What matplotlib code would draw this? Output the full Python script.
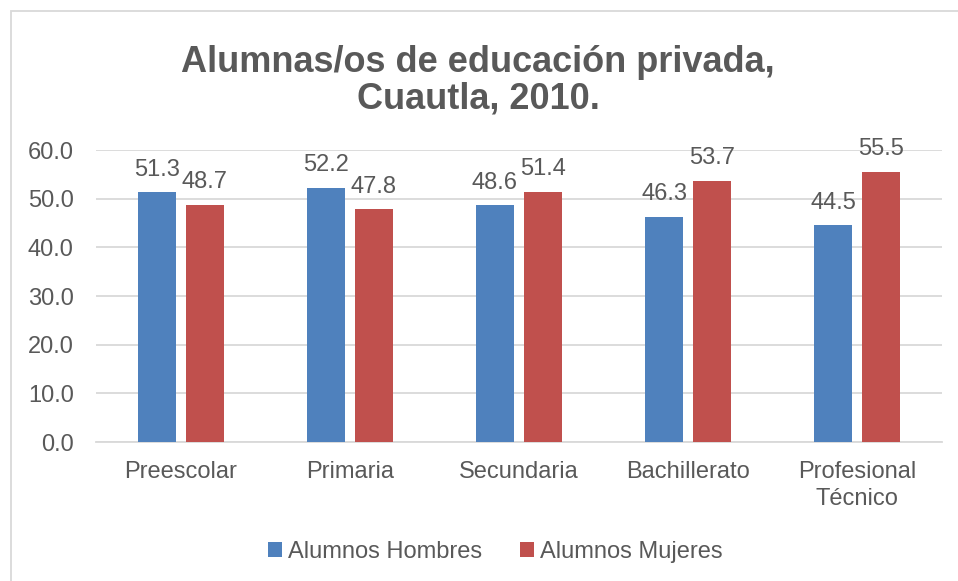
import numpy as np
import matplotlib
matplotlib.use("Agg")
import matplotlib.pyplot as plt
from matplotlib.patches import Rectangle

# data
categorias = ["Preescolar", "Primaria", "Secundaria", "Bachillerato", "Profesional\nTécnico"]
hombres = [51.3, 52.2, 48.6, 46.3, 44.5]
mujeres = [48.7, 47.8, 51.4, 53.7, 55.5]
yticks = [0, 10, 20, 30, 40, 50, 60]

plt.rcParams['font.family'] = ['Liberation Sans', 'DejaVu Sans']
gris = '#595959'
azul = '#4F81BD'
rojo = '#C0504D'
fs = 17

fig = plt.figure(figsize=(9.58, 5.81), dpi=100)
ax = fig.add_axes([0.1002, 0.2392, 0.8831, 0.5026])

x = np.arange(len(categorias))
w = 0.225
off = 0.142
b1 = ax.bar(x - off, hombres, w, color=azul, label='Alumnos Hombres', zorder=3)
b2 = ax.bar(x + off, mujeres, w, color=rojo, label='Alumnos Mujeres', zorder=3)

for bars, vals in ((b1, hombres), (b2, mujeres)):
    for b, v in zip(bars, vals):
        ax.annotate(f'{v:.1f}', (b.get_x() + b.get_width() / 2, v),
                    xytext=(0, 12), textcoords='offset points',
                    ha='center', va='baseline', fontsize=fs, color=gris)

ax.set_xlim(-0.5, len(categorias) - 0.5)
ax.set_ylim(0, 60)
ax.set_yticks(yticks)
ax.set_yticklabels([f'{t:.1f}' for t in yticks])
ax.set_xticks(x)
ax.set_xticklabels(categorias, linespacing=1.25)
ax.tick_params(axis='y', length=0, pad=16, labelsize=fs, labelcolor=gris)
ax.tick_params(axis='x', length=0, pad=14, labelsize=fs, labelcolor=gris)
ax.grid(axis='y', color='#D9D9D9', linewidth=1.3, zorder=0)
for s in ('top', 'right', 'left'):
    ax.spines[s].set_visible(False)
ax.spines['bottom'].set_color('#D9D9D9')
ax.spines['bottom'].set_linewidth(1.3)

fig.text(0.499, 0.861, 'Alumnas/os de educación privada,\nCuautla, 2010.',
         ha='center', va='center', fontsize=26, fontweight='bold', color=gris,
         linespacing=1.05)

ax.legend(loc='center', bbox_to_anchor=(0.472, -0.375), ncol=2, frameon=False,
          fontsize=fs, labelcolor=gris, handlelength=0.6, handleheight=0.6,
          handletextpad=0.25, columnspacing=1.6)

# chart border (cropped on right/bottom)
fig.add_artist(Rectangle((11 / 958, -0.1), 1.1, 1 - 11 / 581 + 0.1,
                         transform=fig.transFigure, fill=False,
                         edgecolor='#D9D9D9', linewidth=1.3))

fig.savefig('out.png', dpi=100)
